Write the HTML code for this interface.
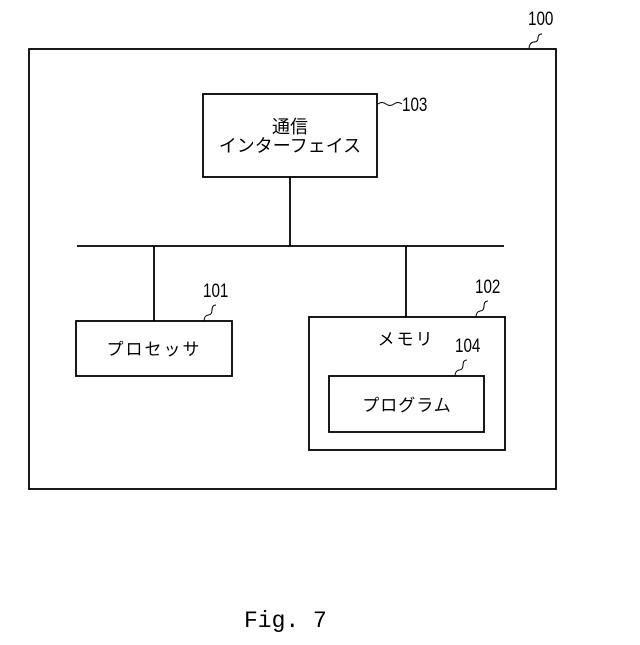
<!DOCTYPE html>
<html><head><meta charset="utf-8"><style>
body{margin:0;background:#fff;}
</style></head><body>
<svg width="640" height="640" viewBox="0 0 640 640" xmlns="http://www.w3.org/2000/svg">
<g fill="none" stroke="#000" stroke-width="1.8">
<rect x="29" y="49" width="527" height="440"/>
<rect x="203" y="94" width="174" height="83"/>
<line x1="290" y1="177" x2="290" y2="246"/>
<line x1="77" y1="246" x2="504" y2="246"/>
<line x1="154" y1="246" x2="154" y2="321"/>
<rect x="76" y="321" width="156" height="55"/>
<line x1="406" y1="246" x2="406" y2="317"/>
<rect x="309" y="317" width="196" height="133"/>
<rect x="329" y="376" width="155" height="56"/>
</g>
<g fill="none" stroke="#000" stroke-width="1">
<path d="M529,48 q1,-6 5,-6 q4,0 4,-4 q0,-4 4,-4"/>
<path d="M378,104 q4,-3 8,0 q4,3 8,0 q4,-3 8,0"/>
<path d="M204,321 q0,-5 4,-6 q4,0 4,-5 q0,-5 4,-5"/>
<path d="M476,317 q0,-5 4,-6 q4,0 4,-5 q0,-5 4,-5"/>
<path d="M455,376 q0,-5 4,-6 q4,0 4,-5 q0,-5 4,-5"/>
</g>
<g font-family="'Liberation Sans','Noto Sans CJK JP',sans-serif" fill="#000">
<text x="290" y="133" font-size="18" text-anchor="middle">通信</text>
<text x="290" y="152" font-size="18" text-anchor="middle">インターフェイス</text>
<text x="154" y="355" font-size="17" text-anchor="middle" letter-spacing="2">プロセッサ</text>
<text x="406" y="345" font-size="17" text-anchor="middle" letter-spacing="2">メモリ</text>
<text x="407" y="411" font-size="17" text-anchor="middle" letter-spacing="1">プログラム</text>
</g>
<g font-family="'Liberation Sans',sans-serif" font-size="19" fill="#000">
<text transform="translate(528,25) scale(0.8,1)">100</text>
<text transform="translate(402,111) scale(0.8,1)">103</text>
<text transform="translate(203,297) scale(0.8,1)">101</text>
<text transform="translate(475,293) scale(0.8,1)">102</text>
<text transform="translate(455,352) scale(0.8,1)">104</text>
</g>
<text x="244" y="627" font-family="'Liberation Mono',monospace" font-size="23" fill="#000">Fig. 7</text>
</svg>
</body></html>
